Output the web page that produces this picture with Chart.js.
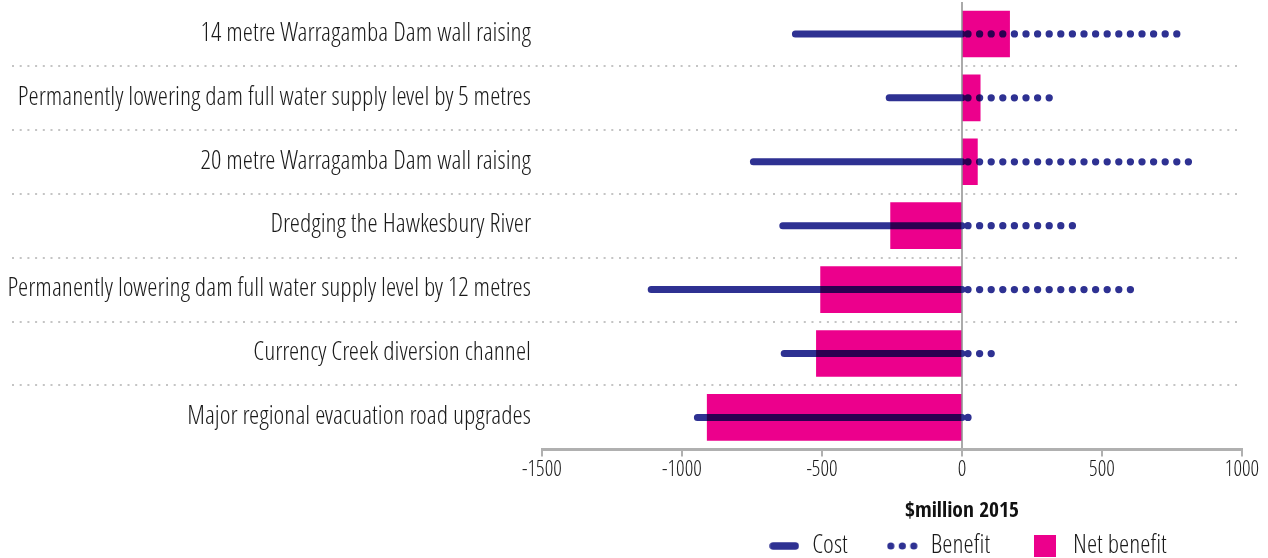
<!DOCTYPE html>
<html>
<head>
<meta charset="utf-8">
<script src="https://cdn.jsdelivr.net/npm/chart.js@4/dist/chart.umd.min.js"></script>
<style>
  html, body { margin: 0; padding: 0; background: #fff; }
</style>
</head>
<body>
<canvas id="optionsChart" width="1268" height="558"></canvas>
<script>
var options = ["14 metre Warragamba Dam wall raising", "Permanently lowering dam full water supply level by 5 metres", "20 metre Warragamba Dam wall raising", "Dredging the Hawkesbury River", "Permanently lowering dam full water supply level by 12 metres", "Currency Creek diversion channel", "Major regional evacuation road upgrades"];
var cost = [-595, -260, -745, -640, -1110, -635, -945];
var benefit = [775, 330, 810, 395, 615, 125, 50];
var netBenefit = [170, 65, 55, -255, -505, -520, -910];
var xTicks = [-1500, -1000, -500, 0, 500, 1000];

var navy = "#2E3192";
var pink = "#EC008C";
var font = '"Open Sans Condensed Light", "Roboto Condensed", Roboto, sans-serif';
var boldFont = '"Open Sans Condensed", "Roboto Condensed", Roboto, sans-serif';

// each option gets its own stretch from 0, broken up by a null point
function fromZero(values) {
  var pts = [];
  values.forEach(function (v, i) {
    pts.push({x: 0, y: options[i]}, {x: v, y: options[i]}, {x: null, y: options[i]});
  });
  return pts;
}

function icon(w, h, draw) {
  var c = document.createElement("canvas");
  c.width = w; c.height = h;
  draw(c.getContext("2d"));
  return c;
}
var costIcon = icon(30, 8, function (g) {
  g.strokeStyle = navy; g.lineWidth = 7.5; g.lineCap = "round";
  g.beginPath(); g.moveTo(4, 4); g.lineTo(26, 4); g.stroke();
});
var benefitIcon = icon(32, 8, function (g) {
  g.fillStyle = navy;
  [4, 15.5, 27].forEach(function (x) { g.beginPath(); g.arc(x, 4, 3.6, 0, Math.PI * 2); g.fill(); });
});
var netIcon = icon(22, 22, function (g) { g.fillStyle = pink; g.fillRect(0, 0, 22, 22); });

// pink bars darken whatever sits under them
var multiplyBars = {
  id: "multiplyBars",
  beforeDatasetDraw: function (chart, args) {
    if (args.meta.type === "bar") { chart.ctx.save(); chart.ctx.globalCompositeOperation = "multiply"; }
  },
  afterDatasetDraw: function (chart, args) {
    if (args.meta.type === "bar") chart.ctx.restore();
  }
};

// axis title and legend sit centred under the zero line
var underZero = {
  id: "underZero",
  afterLayout: function (chart) {
    var zero = chart.scales.x.getPixelForValue(0);
    var t = chart.titleBlock, lg = chart.legend;
    t.left = zero - 200; t.right = zero + 200;
    t.top = 511 - 13; t.bottom = t.top + 26;
    lg.left = zero - 300 + 6; lg.right = zero + 300 + 6;
    lg.top = 546 - 40 - 13; lg.bottom = lg.top + 66;
  }
};

function hideEnds(c) {
  return c.type !== "tick" || c.index === 0 ? "transparent" : "#c4c4c4";
}

var ctx = document.getElementById("optionsChart");
var optionsChart = new Chart(ctx, {
  type: "bar",
  data: {
    labels: options,
    datasets: [
      {
        type: "bar",
        label: "Net benefit",
        data: netBenefit,
        backgroundColor: pink,
        barThickness: 46,
        order: 0
      },
      {
        type: "line",
        label: "Cost",
        data: fromZero(cost),
        borderColor: navy,
        borderWidth: 7,
        borderCapStyle: "round",
        pointRadius: 0,
        order: 1
      },
      {
        type: "line",
        label: "Benefit",
        data: fromZero(benefit),
        borderColor: navy,
        borderWidth: 7.3,
        borderCapStyle: "round",
        borderDash: [0, 11.6],
        borderDashOffset: 5.6,
        pointRadius: 0,
        order: 2
      }
    ]
  },
  options: {
    indexAxis: "y",
    responsive: false,
    animation: false,
    devicePixelRatio: 1,
    layout: { padding: { left: 0, right: 26, top: 2, bottom: 47 } },
    scales: {
      x: {
        min: -1500,
        max: 1000,
        afterBuildTicks: function (s) { s.ticks = xTicks.map(function (v) { return {value: v}; }); },
        ticks: {
          color: "#1a1a1a",
          padding: 1,
          font: { family: font, size: 21.5 },
          callback: function (v) { return String(v); }
        },
        grid: {
          color: function (c) { return c.tick && c.tick.value === 0 ? "#aaa" : "transparent"; },
          lineWidth: 2,
          tickColor: "#b0b0b0",
          tickWidth: 2,
          tickLength: 7
        },
        border: { color: "#b0b0b0", width: 3 }
      },
      y: {
        afterFit: function (s) { s.width = 542; },
        ticks: {
          color: "#1a1a1a",
          padding: -519,
          font: { family: font, size: 26 }
        },
        grid: {
          offset: true,
          color: hideEnds,
          tickColor: hideEnds,
          lineWidth: 2,
          tickWidth: 2,
          tickLength: 530,
          tickBorderDash: [2, 5.7]
        },
        border: { display: false, dash: [2, 5.7] }
      }
    },
    plugins: {
      tooltip: { enabled: false },
      title: {
        display: true,
        text: "$million 2015",
        position: "bottom",
        weight: 500,
        padding: 0,
        color: "#111",
        font: { family: boldFont, size: 21.5, weight: "bold" }
      },
      legend: {
        position: "bottom",
        maxHeight: 1,
        labels: {
          usePointStyle: true,
          pointStyleWidth: 30,
          padding: 40,
          color: "#1a1a1a",
          font: { family: font, size: 26 },
          generateLabels: function () {
            return [
              {text: "Cost", pointStyle: costIcon},
              {text: "Benefit", pointStyle: benefitIcon},
              {text: "Net benefit", pointStyle: netIcon}
            ].map(function (it, i) {
              return {text: it.text, pointStyle: it.pointStyle, fillStyle: "transparent", strokeStyle: "transparent", lineWidth: 0, hidden: false, datasetIndex: i, fontColor: "#1a1a1a"};
            });
          }
        }
      }
    }
  },
  plugins: [multiplyBars, underZero]
});
</script>
</body>
</html>
